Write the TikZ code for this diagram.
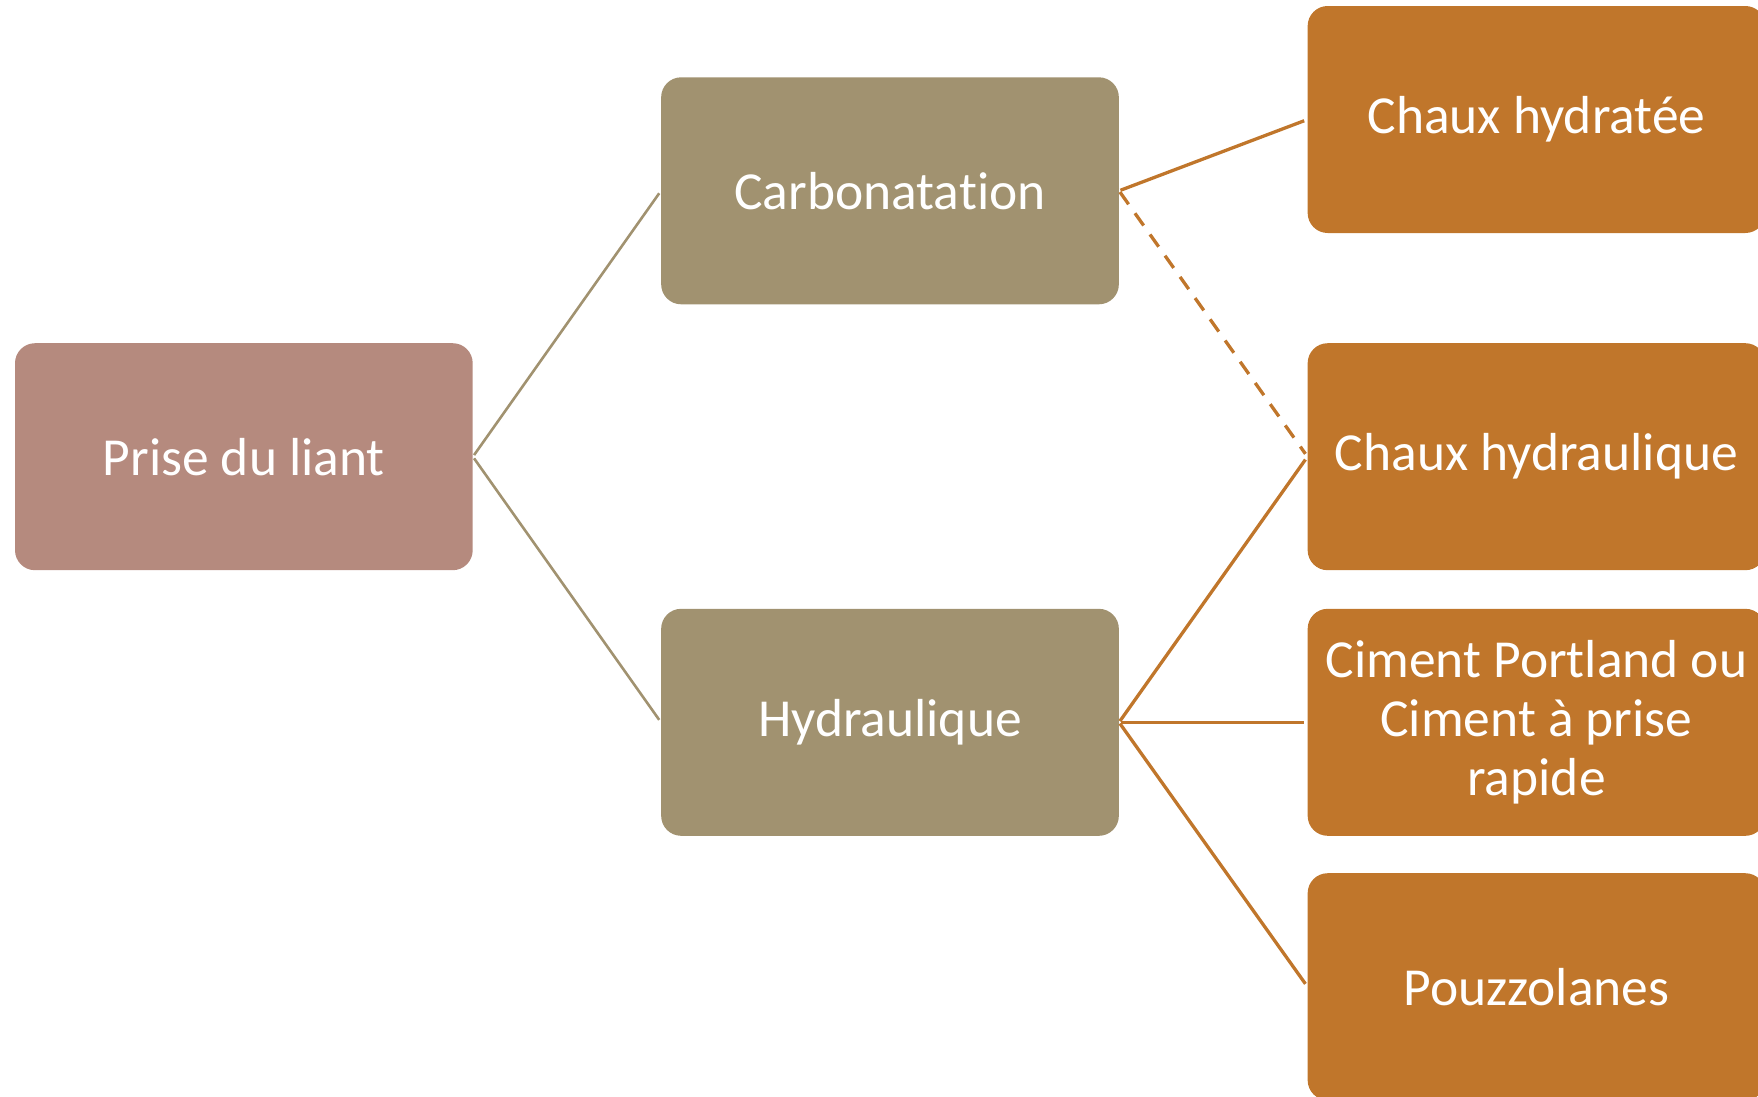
\documentclass[tikz,border=0pt]{standalone}
\usepackage{fontspec}
\setmainfont{Carlito}[Ligatures=NoCommon]
\definecolor{rosebox}{RGB}{181,138,126}
\definecolor{khaki}{RGB}{161,146,112}
\definecolor{ochre}{RGB}{192,118,43}
\tikzset{
  box/.style={rectangle, rounded corners=20pt, minimum width=457.7pt, minimum height=227pt,
    inner sep=0pt, text=white, align=center, font=\fontsize{53.5}{59}\selectfont},
  rootbox/.style={box, fill=rosebox},
  midbox/.style={box, fill=khaki},
  leafbox/.style={box, fill=ochre},
  grayline/.style={draw=khaki, line width=2.6pt, shorten <=2pt, shorten >=3pt},
  ochreline/.style={draw=ochre, line width=3.3pt, shorten <=1.5pt, shorten >=3.5pt},
  ochredash/.style={ochreline, dash pattern=on 15pt off 11pt}
}
\begin{document}
\begin{tikzpicture}[x=1pt,y=-1pt]
\useasboundingbox (0,0) rectangle (1758,1096);
\clip (0,0) rectangle (1758,1096);
\node[rootbox] (prise) at (243.85,456.7) {Prise du liant};
\node[midbox] (carb) at (890,190.8) {Carbonatation};
\node[midbox] (hydr) at (890,722.3) {Hydraulique};
\node[leafbox] (ch1) at (1536.5,119.5) {Chaux hydratée};
\node[leafbox] (ch2) at (1536.5,456.7) {Chaux hydraulique};
\node[leafbox] (cim) at (1536.5,722.3) {Ciment Portland ou\\Ciment à prise\\rapide};
\node[leafbox] (pouz) at (1536.5,986.7) {Pouzzolanes};
\draw[grayline] (prise.east) -- (carb.west);
\draw[grayline] (prise.east) -- (hydr.west);
\draw[ochreline] (carb.east) -- (ch1.west);
\draw[ochredash] (carb.east) -- (ch2.west);
\draw[ochreline] (hydr.east) -- (ch2.west);
\draw[ochreline] (hydr.east) -- (cim.west);
\draw[ochreline] (hydr.east) -- (pouz.west);
\end{tikzpicture}
\end{document}
